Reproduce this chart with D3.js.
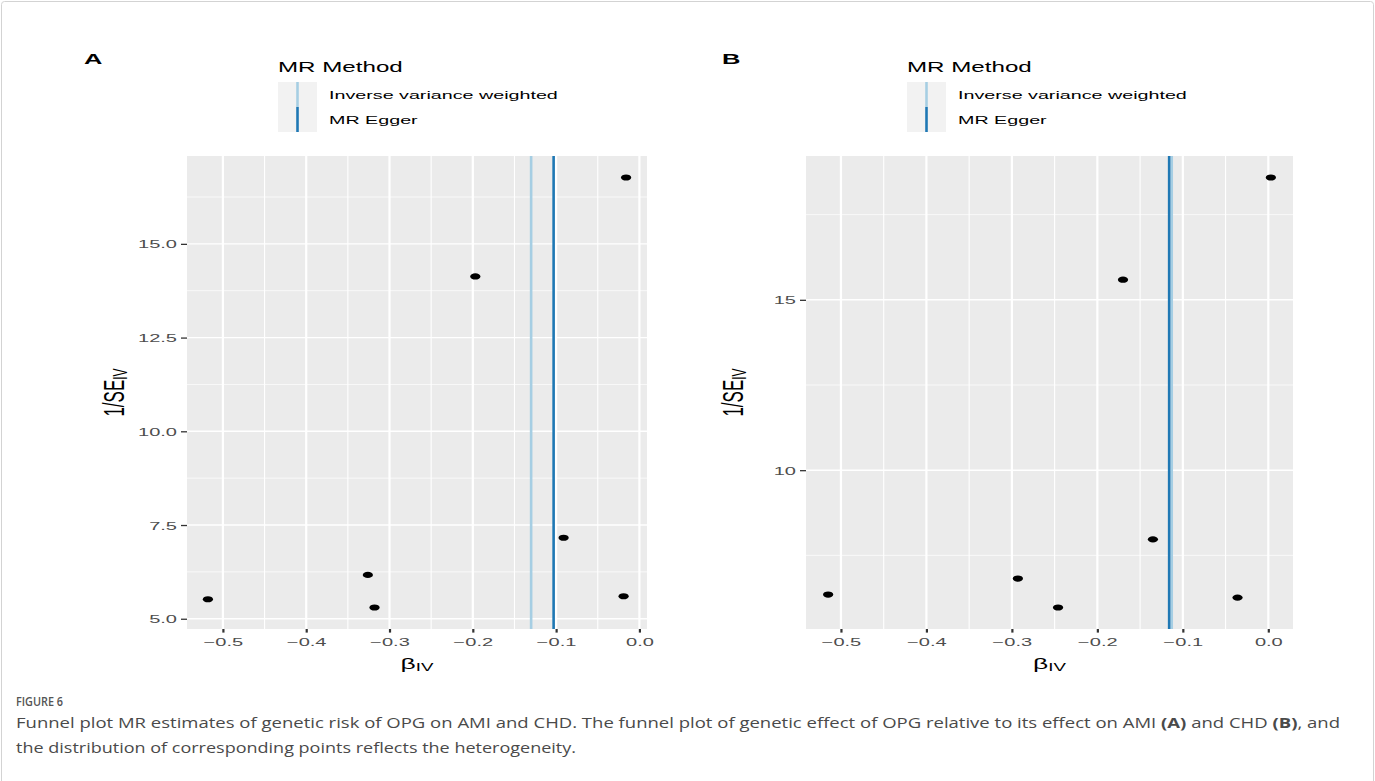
<!DOCTYPE html>
<html>
<head>
<meta charset="utf-8">
<script src="https://cdn.jsdelivr.net/npm/d3@7"></script>
<style>
  html, body { margin: 0; padding: 0; background: #fff; }
  svg { display: block; }
</style>
</head>
<body>
<div id="chart"></div>
<script>
// ---- data ----
var methods = ["Inverse variance weighted", "MR Egger"];
var methodColors = ["#a6cee3", "#1f78b4"];

// panel A: AMI
var betaA = [-0.518, -0.326, -0.318, -0.197, -0.091, -0.019, -0.016];
var invSeA = [5.52, 6.17, 5.30, 14.13, 7.16, 5.60, 16.77];
var mrA = [-0.130, -0.103];

// panel B: CHD
var betaB = [-0.515, -0.293, -0.246, -0.170, -0.135, -0.036, 0.003];
var invSeB = [6.35, 6.82, 5.97, 15.59, 7.97, 6.26, 18.59];
var mrB = [-0.113, -0.116];

var xTicks = [-0.5, -0.4, -0.3, -0.2, -0.1, 0.0];
var xTickLabels = ["\u22120.5", "\u22120.4", "\u22120.3", "\u22120.2", "\u22120.1", "0.0"];
var yTicksA = [5, 7.5, 10, 12.5, 15];
var yTickLabelsA = ["5.0", "7.5", "10.0", "12.5", "15.0"];
var yTicksB = [10, 15];
var yTickLabelsB = ["10", "15"];

var captionHead = "FIGURE 6";
var captionLine1 = ["Funnel plot MR estimates of genetic risk of OPG on AMI and CHD. The funnel plot of genetic effect of OPG relative to its effect on AMI ", "(A)", " and CHD ", "(B)", ", and"];
var captionLine2 = "the distribution of corresponding points reflects the heterogeneity.";

// ---- layout ----
var width = 1375;
var height = 781;
// the figure image is stretched horizontally
var SX = 1.7;
var font = "'Liberation Sans', Arial, Helvetica, sans-serif";

var svg = d3.select("#chart").append("svg")
    .attr("width", width)
    .attr("height", height);

// frame round the figure box
svg.append("rect")
    .attr("x", 1.5).attr("y", 1.5)
    .attr("width", width - 3).attr("height", height + 20)
    .attr("rx", 3)
    .attr("fill", "none")
    .attr("stroke", "#d3d3d3");

function expand(values) {
    // ggplot style 5% expansion
    var ext = d3.extent(values);
    var pad = (ext[1] - ext[0]) * 0.05;
    return [ext[0] - pad, ext[1] + pad];
}

function minorBreaks(ticks, domain) {
    var step = ticks[1] - ticks[0];
    var out = [];
    for (var i = -1; i < ticks.length; i++) {
        var m = ticks[0] + (i + 0.5) * step;
        if (m > domain[0] && m < domain[1]) out.push(m);
    }
    return out;
}

function stretched(g, x, y, str, size, anchor) {
    return g.append("text")
        .attr("transform", "translate(" + x + "," + y + ") scale(" + SX + ",1)")
        .attr("text-anchor", anchor || "start")
        .attr("font-family", font)
        .attr("font-size", size + "px")
        .text(str);
}

function drawPanel(p) {
    var g = svg.append("g");

    var x = d3.scaleLinear()
        .domain(expand(p.beta.concat(p.mr)))
        .range([p.left, p.right]);
    var y = d3.scaleLinear()
        .domain(expand(p.invSe))
        .range([p.bottom, p.top]);

    // panel background
    g.append("rect")
        .attr("x", p.left).attr("y", p.top)
        .attr("width", p.right - p.left).attr("height", p.bottom - p.top)
        .attr("fill", "#ebebeb");

    // grid lines
    var xMinor = minorBreaks(xTicks, x.domain());
    var yMinor = minorBreaks(p.yTicks, y.domain());

    g.selectAll(".xminor").data(xMinor).enter().append("line")
        .attr("x1", function (d) { return x(d); }).attr("x2", function (d) { return x(d); })
        .attr("y1", p.top).attr("y2", p.bottom)
        .attr("stroke", "#fff").attr("stroke-width", 1.1);
    g.selectAll(".yminor").data(yMinor).enter().append("line")
        .attr("x1", p.left).attr("x2", p.right)
        .attr("y1", function (d) { return y(d); }).attr("y2", function (d) { return y(d); })
        .attr("stroke", "#fff").attr("stroke-width", 0.7);
    g.selectAll(".xmajor").data(xTicks).enter().append("line")
        .attr("x1", function (d) { return x(d); }).attr("x2", function (d) { return x(d); })
        .attr("y1", p.top).attr("y2", p.bottom)
        .attr("stroke", "#fff").attr("stroke-width", 2.2);
    g.selectAll(".ymajor").data(p.yTicks).enter().append("line")
        .attr("x1", p.left).attr("x2", p.right)
        .attr("y1", function (d) { return y(d); }).attr("y2", function (d) { return y(d); })
        .attr("stroke", "#fff").attr("stroke-width", 1.4);

    // MR method lines
    g.selectAll(".mr").data(p.mr).enter().append("line")
        .attr("x1", function (d) { return x(d); }).attr("x2", function (d) { return x(d); })
        .attr("y1", p.top).attr("y2", p.bottom)
        .attr("stroke", function (d, i) { return methodColors[i]; })
        .attr("stroke-width", 2.6);

    // points
    var pts = p.beta.map(function (b, i) { return [b, p.invSe[i]]; });
    g.selectAll(".pt").data(pts).enter().append("ellipse")
        .attr("cx", function (d) { return x(d[0]); })
        .attr("cy", function (d) { return y(d[1]); })
        .attr("rx", 3 * SX).attr("ry", 3.1)
        .attr("fill", "#000");

    // x axis
    var xAxis = g.append("g")
        .attr("transform", "translate(0," + p.bottom + ")")
        .call(d3.axisBottom(x).tickValues(xTicks).tickSize(3.6)
            .tickFormat(function (d, i) { return xTickLabels[i]; }));
    xAxis.select(".domain").remove();
    xAxis.selectAll("line").attr("stroke", "#333").attr("stroke-width", 2.2);
    xAxis.selectAll("text")
        .attr("y", null).attr("dy", null)
        .attr("transform", "translate(0,17) scale(" + SX + ",1)")
        .attr("font-family", font).attr("font-size", "11.8px")
        .attr("fill", "#4d4d4d");

    // y axis
    var yAxis = g.append("g")
        .attr("transform", "translate(" + p.left + ",0)")
        .call(d3.axisLeft(y).tickValues(p.yTicks).tickSize(6)
            .tickFormat(function (d, i) { return p.yTickLabels[i]; }));
    yAxis.select(".domain").remove();
    yAxis.selectAll("line").attr("stroke", "#333").attr("stroke-width", 1.3);
    yAxis.selectAll("text")
        .attr("x", null).attr("dy", "0.35em")
        .attr("transform", "translate(-10,0) scale(" + SX + ",1)")
        .attr("font-family", font).attr("font-size", "11.8px")
        .attr("fill", "#4d4d4d");

    // axis titles
    var cx = (p.left + p.right) / 2;
    var xt = stretched(g, cx, p.bottom + 40, "", 15.5, "middle");
    xt.append("tspan").text("\u03b2");
    xt.append("tspan").attr("font-size", "11px").attr("dy", "2").text("IV");

    var cy = (p.top + p.bottom) / 2;
    var yt = g.append("text")
        .attr("transform", "translate(" + (p.left - 63) + "," + cy + ") scale(" + SX + ",1) rotate(-90)")
        .attr("text-anchor", "middle")
        .attr("font-family", font)
        .attr("font-size", "17px");
    yt.append("tspan").text("1/SE");
    yt.append("tspan").attr("font-size", "12px").attr("dy", "2").text("IV");

    // panel letter
    stretched(g, p.letterX, 64, p.letter, 15, "start").attr("font-weight", "bold");

    // legend
    var lg = g.append("g");
    stretched(lg, p.legendX, 72, "MR Method", 14.2, "start");
    methods.forEach(function (m, i) {
        var ky = 82 + i * 25;
        lg.append("rect")
            .attr("x", p.legendX).attr("y", ky)
            .attr("width", 39).attr("height", 25)
            .attr("fill", "#f2f2f2");
        lg.append("line")
            .attr("x1", p.legendX + 19.5).attr("x2", p.legendX + 19.5)
            .attr("y1", ky).attr("y2", ky + 25)
            .attr("stroke", methodColors[i]).attr("stroke-width", 2.6);
        stretched(lg, p.legendX + 51, ky + 16.5, m, 11.6, "start").attr("fill", "#000");
    });
}

drawPanel({
    letter: "A", letterX: 84, legendX: 278,
    left: 187, right: 647, top: 156, bottom: 629,
    beta: betaA, invSe: invSeA, mr: mrA,
    yTicks: yTicksA, yTickLabels: yTickLabelsA
});

drawPanel({
    letter: "B", letterX: 722, legendX: 907,
    left: 806, right: 1293, top: 156, bottom: 629,
    beta: betaB, invSe: invSeB, mr: mrB,
    yTicks: yTicksB, yTickLabels: yTickLabelsB
});

// caption
var cap = svg.append("g").attr("font-family", "'Open Sans', 'Noto Sans', sans-serif");
cap.append("text")
    .attr("x", 16).attr("y", 706)
    .attr("font-size", "12px")
    .attr("font-weight", 600)
    .attr("fill", "#555")
    .attr("textLength", 47).attr("lengthAdjust", "spacingAndGlyphs")
    .text(captionHead);

var l1 = cap.append("text")
    .attr("x", 16).attr("y", 728)
    .attr("font-size", "15px")
    .attr("fill", "#4a4a4a")
    .attr("textLength", 1324).attr("lengthAdjust", "spacingAndGlyphs");
captionLine1.forEach(function (s) {
    var t = l1.append("tspan").text(s);
    if (s === "(A)" || s === "(B)") t.attr("font-weight", "bold");
});

cap.append("text")
    .attr("x", 16).attr("y", 753)
    .attr("font-size", "15px")
    .attr("fill", "#4a4a4a")
    .attr("textLength", 560).attr("lengthAdjust", "spacingAndGlyphs")
    .text(captionLine2);
</script>
</body>
</html>
